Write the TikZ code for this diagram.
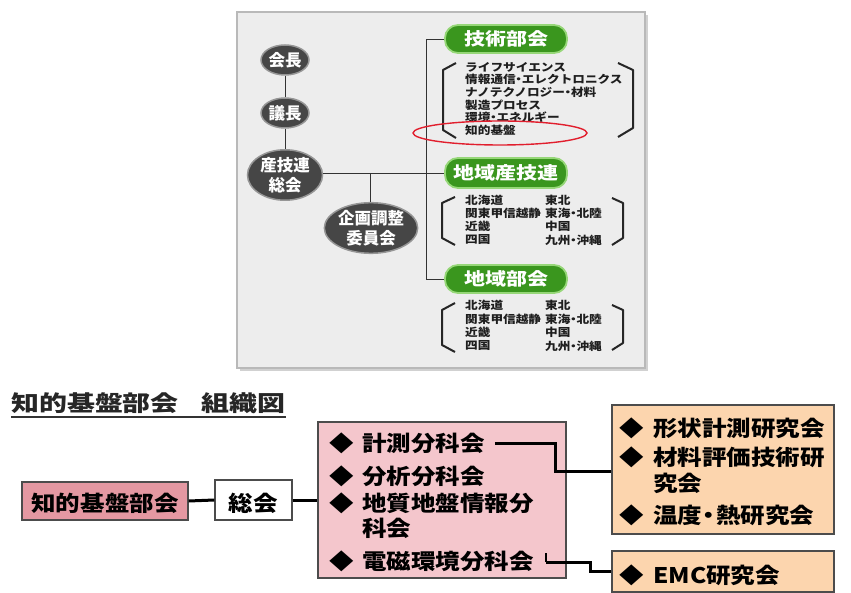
\documentclass[tikz,border=0pt]{standalone}
\usepackage{fontspec}
\usetikzlibrary{shapes.geometric}
\newfontfamily\jpbox[FakeStretch=1.14]{Noto Sans CJK JP}
\newfontfamily\jptitle[FakeStretch=1.27]{Noto Sans CJK JP}
\newfontfamily\jpgreen[FakeStretch=1.2]{Noto Sans CJK JP}
\newfontfamily\jpsmall[FakeStretch=1.15]{Noto Sans CJK JP}
\newfontfamily\jpell[FakeStretch=1.0]{Noto Sans CJK JP}
\definecolor{gboxfill}{RGB}{237,237,237}
\definecolor{gboxdraw}{RGB}{185,185,185}
\definecolor{ellfill}{RGB}{70,70,70}
\definecolor{elldraw}{RGB}{150,150,150}
\definecolor{grn}{RGB}{58,150,30}
\definecolor{grnlight}{RGB}{150,215,120}
\definecolor{pinkA}{RGB}{228,152,162}
\definecolor{pinkB}{RGB}{244,198,204}
\definecolor{orng}{RGB}{252,213,174}
\definecolor{redmk}{RGB}{225,30,45}
\definecolor{txt}{RGB}{30,30,30}
\newcommand\mydia[1]{\makebox[#1][l]{◆}}
\newcommand\sdot{\makebox[6pt]{・}}
\newcommand\bdot{\makebox[14pt]{・}}
\tikzset{
  ell/.style={ellipse, fill=ellfill, draw=elldraw, line width=1.5pt, inner sep=0pt,
    text=white, font=\jpell\bfseries\fontsize{16.5}{20}\selectfont, align=center},
  grnbox/.style={rectangle, rounded corners=13pt, fill=grn, draw=grnlight, line width=1.8pt,
    text=white, font=\jpgreen\bfseries\fontsize{17.5}{18}\selectfont, inner sep=0pt},
  thinl/.style={draw=black!80, line width=0.9pt},
  brk/.style={draw=black!85, line width=2pt, line join=round},
  smalltxt/.style={anchor=west, inner sep=0pt, text=txt, font=\jpsmall\bfseries\fontsize{11}{11}\selectfont},
  lowbox/.style={rectangle, draw=black!70, line width=1.2pt, inner sep=0pt},
  lowtxt/.style={anchor=west, inner sep=0pt, text=black, font=\jpbox\bfseries\fontsize{21.5}{22}\selectfont},
  conn/.style={draw=black, line width=3pt, line join=miter},
}
\begin{document}
\begin{tikzpicture}[x=1pt,y=-1pt]
\useasboundingbox (0,0) rectangle (851,593);
\fill[white] (0,0) rectangle (851,593);

% ---------- upper panel ----------
\fill[black!18] (240,15) rectangle (648,371);
\draw[draw=gboxdraw, fill=gboxfill, line width=1.2pt] (237,12) rectangle (645,368);

\node[ell, minimum width=48pt, minimum height=30pt] (kaicho) at (285,60) {会長};
\node[ell, minimum width=48pt, minimum height=30pt] (gicho) at (285,113) {議長};
\node[ell, minimum width=75pt, minimum height=50pt] (sangi) at (285,175) {産技連\\総会};
\node[ell, minimum width=79pt, minimum height=49pt] (kikaku) at (371,228) {企画調整\\委員会};

\node[grnbox, minimum width=122pt, minimum height=28pt] (gijutsu) at (506,39) {技術部会};
\node[grnbox, minimum width=122pt, minimum height=30pt] (chiikisangi) at (506,173) {地域産技連};
\node[grnbox, minimum width=122pt, minimum height=28pt] (chiikibukai) at (506,279) {地域部会};

\coordinate (busx) at (426,0);
\coordinate (brx) at (370,0);
\draw[thinl] (kaicho) -- (gicho);
\draw[thinl] (gicho) -- (sangi);
\draw[thinl] (sangi.east |- chiikisangi.west) -- (chiikisangi.west);
\draw[thinl] (gijutsu.west) -- (gijutsu.west -| busx) -- (chiikibukai.west -| busx) -- (chiikibukai.west);
\draw[thinl] (brx |- chiikisangi.west) -- (kikaku.north -| brx);

% technical list
\foreach \t [count=\i from 0] in {ライフサイエンス,情報通信\sdot エレクトロニクス,ナノテクノロジー\sdot 材料,製造プロセス,環境\sdot エネルギー,知的基盤}
  \node[smalltxt] (tech\i) at (465,{67+12.6*\i}) {\t};
\draw[brk] (456,63) -- (443,70) -- (443,130) -- (456,138);
\draw[brk] (618,63) -- (633,70) -- (633,128) -- (618,137);
\node[ellipse, draw=redmk, line width=1.4pt, minimum width=174pt, minimum height=24pt, inner sep=0pt] (redmark) at (500,133) {};

% region lists
\foreach \a/\b [count=\i from 0] in {北海道/東北,関東甲信越静/東海\sdot 北陸,近畿/中国,四国/九州\sdot 沖縄}{
  \node[smalltxt] (ra\i) at (465,{200+13.3*\i}) {\a};
  \node[smalltxt] (rb\i) at (545,{200+13.3*\i}) {\b};
  \node[smalltxt] (rc\i) at (465,{305.5+13.5*\i}) {\a};
  \node[smalltxt] (rd\i) at (545,{305.5+13.5*\i}) {\b};
}
\draw[brk] (455,197) -- (442,203) -- (442,238) -- (455,245);
\draw[brk] (612,198) -- (623,203) -- (623,238) -- (612,245);
\draw[brk] (455,303) -- (442,310) -- (442,345) -- (455,352);
\draw[brk] (612,305) -- (623,310) -- (623,343) -- (612,350);

% ---------- lower part ----------
\node[anchor=west, inner sep=0pt, text=black!85, font=\jptitle\bfseries\fontsize{22}{22}\selectfont] (title) at (11,403) {知的基盤部会\hspace{23pt}組織図};
\draw[black!80, line width=1.2pt] (title.west |- 0,417) coordinate (ul1) -- (title.east |- ul1);

\node[lowbox, fill=pinkA, minimum width=166pt, minimum height=38pt] (chiteki) at (105,501) {};
\node[lowtxt, anchor=center] (chitekit) at (105,503) {知的基盤部会};
\node[lowbox, fill=white, minimum width=77pt, minimum height=40pt] (soukai) at (253.5,500) {};
\node[lowtxt, anchor=center] (soukait) at (253.5,503) {総会};
\node[lowbox, fill=pinkB, minimum width=248pt, minimum height=156pt] (bigbox) at (442,500) {};
\node[lowbox, fill=orng, minimum width=222pt, minimum height=129pt] (ob1) at (723,469.5) {};
\node[lowbox, fill=orng, minimum width=222pt, minimum height=41pt] (ob2) at (723,571.5) {};

\node[lowtxt] (k1) at (329,443) {\mydia{33pt}計測分科会};
\node[lowtxt] (k2) at (329,476) {\mydia{33pt}分析分科会};
\node[lowtxt] (k3) at (329,503) {\mydia{33pt}地質地盤情報分};
\node[lowtxt] (k4) at (362,528) {科会};
\node[lowtxt] (k5) at (329,561) {\mydia{33pt}電磁環境分科会};

\node[lowtxt] (o1) at (619,428) {\mydia{34pt}形状計測研究会};
\node[lowtxt] (o2) at (619,457) {\mydia{34pt}材料評価技術研};
\node[lowtxt] (o3) at (653,483) {究会};
\node[lowtxt] (o4) at (619,515) {\mydia{34pt}温度\bdot 熱研究会};
\node[lowtxt] (o5) at (619,575) {\mydia{34pt}EMC研究会};

\draw[conn] (chiteki.east) -- (soukai.west);
\draw[conn] (soukai.east) -- (soukai.east -| bigbox.west);

\coordinate (j1) at (555,471);
\draw[conn] ([xshift=10pt]k1.east) -| (j1) -- (j1 -| ob1.west);

\coordinate (j2) at (590,562);
\coordinate (t2) at (546,562);
\draw[black, line width=1.6pt] (t2) -- ++(0,-9);
\draw[conn] (t2) -- (j2) |- (ob2.west);
\end{tikzpicture}
\end{document}
